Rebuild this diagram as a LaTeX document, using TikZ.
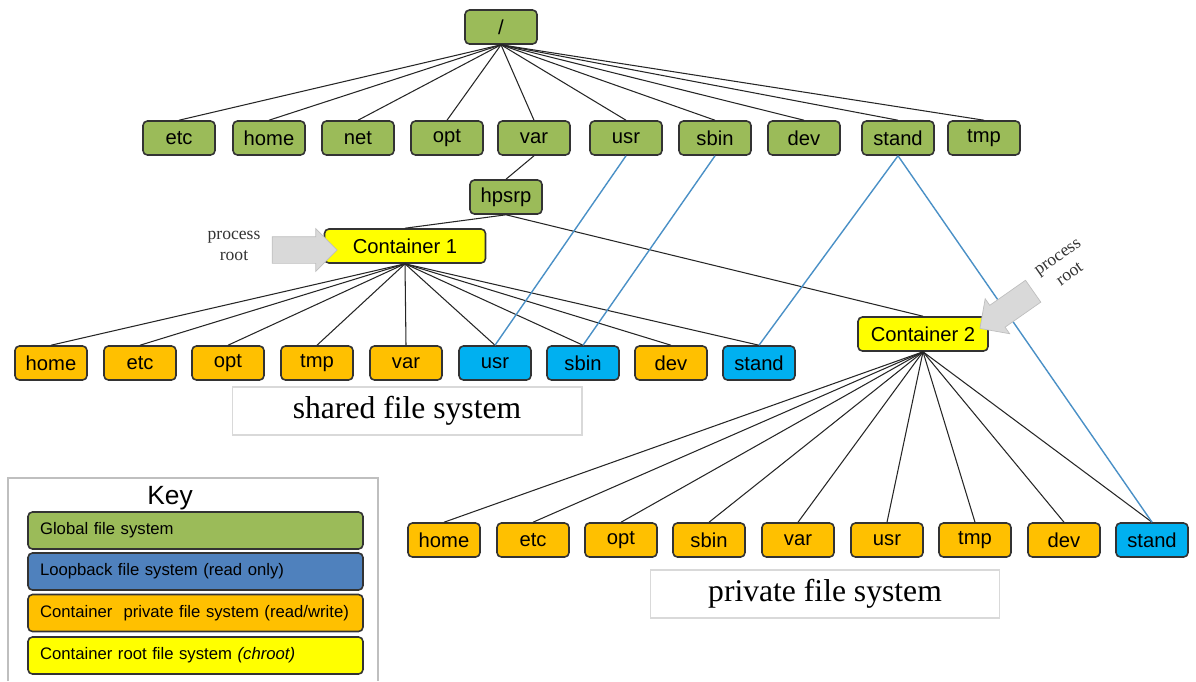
\documentclass[tikz,border=0pt]{standalone}
\usepackage{fontspec}
\setmainfont{Liberation Serif}
\setsansfont{Liberation Sans}
\usepackage{tikz}
\usetikzlibrary{
  	shapes.arrows,
  	positioning
  }
\definecolor{fsgreen}{HTML}{9BBB59}
\definecolor{fsorange}{HTML}{FFC000}
\definecolor{fscyan}{HTML}{00B0F0}
\definecolor{fsyellow}{HTML}{FFFF00}
\definecolor{fsblue}{HTML}{4F81BD}
\definecolor{fsline}{HTML}{4A90C6}
\tikzstyle{fsbox}=[draw=black!80, line width=0.9pt, rounded corners=2.5pt, minimum width=1.44cm, minimum height=0.68cm, inner sep=0pt, font=\sffamily\fontsize{11.5}{13}\selectfont]
\tikzstyle{gfs}=[fsbox, fill=fsgreen]
\tikzstyle{pfs}=[fsbox, fill=fsorange]
\tikzstyle{lfs}=[fsbox, fill=fscyan]
\tikzstyle{rfs}=[fsbox, fill=fsyellow]
\tikzstyle{keyrow}=[fsbox, text width=6.22cm, inner xsep=0.24cm, minimum height=0.74cm, align=left, font=\sffamily\fontsize{9.5}{11}\selectfont]
\tikzstyle{link}=[draw=black!85, line width=0.6pt]
\tikzstyle{loop}=[draw=fsline, line width=0.8pt]
\tikzstyle{caption}=[draw=black!15, line width=0.6pt, minimum height=0.96cm, font=\fontsize{18}{20}\selectfont]
\tikzstyle{procarrow}=[single arrow, draw=black!25, fill=black!15, minimum height=1.3cm, inner xsep=0pt, inner ysep=0.26cm, single arrow head extend=0.16cm]
\tikzstyle{proctext}=[align=center, font=\fontsize{10}{12}\selectfont, text=black!80]

\begin{document}
\begin{tikzpicture}[x=0.02cm, y=-0.02cm]
	\useasboundingbox (0,0) rectangle (1196,681);
%
	\node[gfs, minimum width=1.44cm] at (501,27) (root) {/};
	\foreach \x/\t [count=\i] in {179/etc,269/home,358/net,447/opt,534/var,626/usr,715/sbin,804/dev,898/stand,984/tmp} {
		\node[gfs] at (\x,138) (G\i) {\t};
		\draw[link] (root.south) -- (G\i.north);
	}
	\node[gfs] at (506,197) (hpsrp) {hpsrp};
	\node[rfs, minimum width=3.22cm] at (405,246) (C1) {Container 1};
	\node[rfs, minimum width=2.6cm] at (923,334) (C2) {Container 2};
%
	\foreach \x/\t/\s [count=\i] in {51/home/pfs,140/etc/pfs,228/opt/pfs,317/tmp/pfs,406/var/pfs,495/usr/lfs,583/sbin/lfs,671/dev/pfs,759/stand/lfs} {
		\node[\s] at (\x,363) (A\i) {\t};
		\draw[link] (C1.south) -- (A\i.north);
	}
	\foreach \x/\t/\s [count=\i] in {444/home/pfs,533/etc/pfs,621/opt/pfs,709/sbin/pfs,798/var/pfs,887/usr/pfs,975/tmp/pfs,1064/dev/pfs,1152/stand/lfs} {
		\node[\s] at (\x,540) (B\i) {\t};
		\draw[link] (C2.south) -- (B\i.north);
	}
%
	\draw[link]
		(G5.south) -- (hpsrp.north)
		(hpsrp.south) -- (C1.north)
		(hpsrp.south) -- (C2.north)
	;
	\draw[loop]
		(G6.south) -- (A6.north)
		(G7.south) -- (A7.north)
		(G9.south) -- (A9.north)
		(G9.south) -- (B9.north)
	;
%
	\node[caption, minimum width=7cm] at (407,411) (shared) {shared file system};
	\node[caption, minimum width=6.98cm] at (825,594) (private) {private file system};
%
	\node[procarrow] at (298,250) (arr1) {};
	\node[proctext] at (234,246) (lab1) {process\\root};
	\node[procarrow, rotate=215] at (1012,306) (arr2) {};
	\node[proctext, rotate=35] at (1064,266) (lab2) {process\\root};
%
	\draw[draw=black!25, line width=0.6pt] (8,681) -- (8,478) -- (378,478) -- (378,681);
	\node[font=\sffamily\fontsize{15}{17}\selectfont] at (170,498) (key) {Key};
	\node[keyrow, fill=fsgreen] at (195.5,530.5) (K1) {Global file system};
	\node[keyrow, fill=fsblue] at (195.5,571.5) (K2) {Loopback file system (read only)};
	\node[keyrow, fill=fsorange] at (195.5,613) (K3) {Container\ \ private file system (read/write)};
	\node[keyrow, fill=fsyellow] at (195.5,655.5) (K4) {Container root file system \textit{(chroot)}};
\end{tikzpicture}
\end{document}
